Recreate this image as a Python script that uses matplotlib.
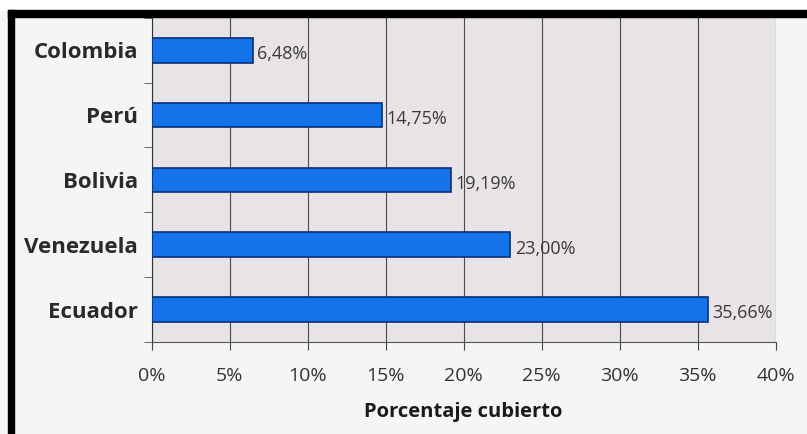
import matplotlib
matplotlib.use("Agg")
import matplotlib.pyplot as plt
from matplotlib.patches import Rectangle
import numpy as np

# data (top to bottom)
paises = ["Colombia", "Perú", "Bolivia", "Venezuela", "Ecuador"]
porcentajes = [6.48, 14.75, 19.19, 23.00, 35.66]
etiquetas = ["6,48%", "14,75%", "19,19%", "23,00%", "35,66%"]
ticks_x = [0, 5, 10, 15, 20, 25, 30, 35, 40]

plt.rcParams['font.family'] = ['Open Sans', 'DejaVu Sans']

fig = plt.figure(figsize=(8.07, 4.34), dpi=100)
fig.patch.set_facecolor('#f5f5f6')
ax = fig.add_axes([0.188, 0.212, 0.773, 0.747])
ax.set_facecolor('#e7e3e7')

y = np.arange(len(paises))
ax.barh(y, porcentajes, height=0.38, color='#1473ea', edgecolor='#0a2e78',
        linewidth=1.2, zorder=3)

for yi, v, lab in zip(y, porcentajes, etiquetas):
    ax.text(v + 0.3, yi + 0.06, lab, va='center', ha='left', fontsize=13,
            color='#3a3a3a', zorder=4)

ax.set_xlim(0, 40)
ax.set_ylim(len(paises) - 0.5, -0.5)
ax.set_xticks(ticks_x)
ax.set_xticklabels([f"{t}%" for t in ticks_x], fontsize=14, color='#333333')
ax.set_yticks(y)
ax.set_yticklabels(paises, fontsize=16, fontweight='bold', color='#2a2a2a')
ax.tick_params(axis='y', length=0, pad=10)
ax.set_yticks(np.arange(len(paises) + 1) - 0.5, minor=True)
ax.tick_params(axis='y', which='minor', length=6, color='#555555')
ax.tick_params(axis='x', length=6, color='#444444', pad=12)

ax.grid(axis='x', color='#4a4a4a', linewidth=0.8, zorder=1)
for s in ['top', 'right']:
    ax.spines[s].set_visible(False)
ax.spines['left'].set_color('#333333')
ax.spines['bottom'].set_color('#555555')

ax.set_xlabel("Porcentaje cubierto", fontsize=14.5, fontweight='bold',
              color='#1a1a1a', labelpad=12)

# scanned page: white strip on top, black frame top and left
fig.add_artist(Rectangle((0, 0.977), 1, 0.03, color='white',
                         transform=fig.transFigure))
fig.add_artist(Rectangle((0.0099, 0.9608), 0.9901, 0.0162, color='black',
                         transform=fig.transFigure))
fig.add_artist(Rectangle((0.0099, 0.0), 0.0075, 0.977, color='black',
                         transform=fig.transFigure))

fig.savefig("out.png", dpi=100, facecolor=fig.get_facecolor())
